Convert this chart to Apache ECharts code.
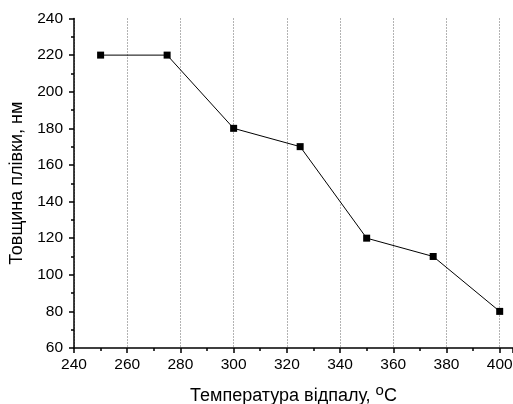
<!DOCTYPE html>
<html><head><meta charset="utf-8">
<script src="https://cdn.jsdelivr.net/npm/echarts@6/dist/echarts.min.js"></script>
<style>html,body{margin:0;padding:0;background:#fff}#c{width:513px;height:404px}</style>
</head><body><div id="c"></div>
<script>
var temperatures = [250, 275, 300, 325, 350, 375, 400];
var thickness = [220, 220, 180, 170, 120, 110, 80];
var xTitle = 'Температура відпалу, ';
var yTitle = 'Товщина плівки, нм';

var chart = echarts.init(document.getElementById('c'), null, {renderer: 'canvas'});
var font = 'Liberation Sans, Arial, sans-serif';
chart.setOption({
  animation: false,
  backgroundColor: '#fff',
  grid: {left: 74, right: 0, top: 18.5, bottom: 56, containLabel: false, outerBoundsMode: 'none'},
  xAxis: {
    type: 'value', min: 240, max: 405, interval: 20,
    name: xTitle + '{sup|o}C',
    nameLocation: 'middle', nameGap: 35,
    nameTextStyle: {fontFamily: font, fontSize: 18, color: '#000',
      rich: {sup: {fontFamily: font, fontSize: 15, color: '#000', verticalAlign: 'bottom', padding: [0, 0, 11, 0]}}},
    axisLine: {show: true, lineStyle: {color: '#000', width: 1.5}},
    axisTick: {show: true, inside: false, length: 5, lineStyle: {color: '#000', width: 1.5}},
    minorTick: {show: true, splitNumber: 2, length: 3, lineStyle: {color: '#000', width: 1.5}},
    axisLabel: {fontFamily: font, fontSize: 15.5, color: '#000', margin: 9,
      formatter: function (v) { return v % 20 === 0 ? String(v) : ''; }},
    splitLine: {show: true, lineStyle: {color: '#666', type: [1, 2], width: 1}},
    minorSplitLine: {show: false}
  },
  yAxis: {
    type: 'value', min: 60, max: 240, interval: 20,
    name: yTitle, nameLocation: 'middle', nameGap: 47, nameRotate: 90,
    nameTextStyle: {fontFamily: font, fontSize: 18, color: '#000'},
    axisLine: {show: true, lineStyle: {color: '#000', width: 1.5}},
    axisTick: {show: true, inside: false, length: 5, lineStyle: {color: '#000', width: 1.5}},
    minorTick: {show: true, splitNumber: 2, length: 3, lineStyle: {color: '#000', width: 1.5}},
    axisLabel: {fontFamily: font, fontSize: 15.5, color: '#000', margin: 11},
    splitLine: {show: false}
  },
  series: [{
    type: 'line',
    data: temperatures.map(function (t, i) { return [t, thickness[i]]; }),
    symbol: 'rect', symbolSize: 7,
    itemStyle: {color: '#000'},
    lineStyle: {color: '#000', width: 1},
    clip: false
  }]
});
</script></body></html>
